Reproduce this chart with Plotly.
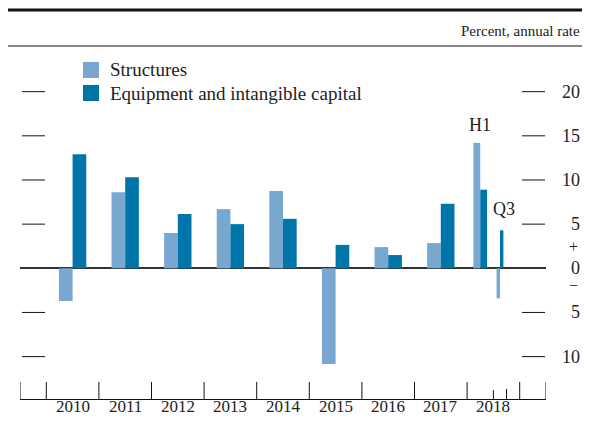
import plotly.graph_objects as go

# ---- data ----
periods = ["2010", "2011", "2012", "2013", "2014", "2015", "2016", "2017", "2018 H1", "2018 Q3"]
structures = [-3.7, 8.6, 4.0, 6.7, 8.75, -10.85, 2.4, 2.85, 14.2, -3.4]
equipment = [12.9, 10.3, 6.15, 5.0, 5.6, 2.65, 1.5, 7.3, 8.9, 4.3]
year_labels = ["2010", "2011", "2012", "2013", "2014", "2015", "2016", "2017", "2018"]
y_ticks = [20, 15, 10, 5, 0, -5, -10]
series_names = ["Structures", "Equipment and intangible capital"]
unit_label = "Percent, annual rate"

# ---- period -> position / width (years) ----
def period_span(p):
    if "H1" in p:
        y = int(p.split()[0]); return y - 0.5, 0.5
    if "Q3" in p:
        y = int(p.split()[0]); return y, 0.25
    y = int(p); return y - 0.5, 1.0

BAR_FRAC = 0.26
xs, ws = [], []
for p in periods:
    start, length = period_span(p)
    xs.append(start + length / 2)
    ws.append(BAR_FRAC * length)

C_S = "#78A8CF"
C_E = "#0075AA"
FONT = "Liberation Serif"
TXT = "#222"

fig = go.Figure()
fig.add_trace(go.Bar(x=xs, y=structures, width=ws, offset=[-w for w in ws],
                     marker=dict(color=C_S, line=dict(width=0)), name=series_names[0],
                     showlegend=False, hoverinfo="skip"))
fig.add_trace(go.Bar(x=xs, y=equipment, width=ws, offset=[0 for w in ws],
                     marker=dict(color=C_E, line=dict(width=0)), name=series_names[1],
                     showlegend=False, hoverinfo="skip"))

X0, X1 = 2009.0, 2019.0
Y0, Y1 = -14.8, 25.17
PH = 353.0  # plot height px
PW = 526.0  # plot width px
ML, MT, MR, MB = 12, 38, 44, 18  # page body adds 8 px on each side

shapes = []
# left/right value ticks
for v in y_ticks:
    if v == 0:
        continue
    for a, b in [(2 / PW, 25 / PW), (502 / PW, 525 / PW)]:
        shapes.append(dict(type="line", xref="paper", yref="y", x0=a, x1=b, y0=v, y1=v,
                           line=dict(color="#111", width=1)))
# year boundary ticks on x axis
tick_h = 17 / PH
bounds = [X0] + [int(year_labels[0]) - 0.5 + i for i in range(len(year_labels) + 1)] + [X1]
for b in bounds:
    shapes.append(dict(type="line", xref="x", yref="paper", x0=b, x1=b, y0=0, y1=tick_h,
                       line=dict(color="#111", width=1)))
# sub-period ticks in 2018
for b, h in [(2018.0, 9 / PH), (2018.25, 10 / PH)]:
    shapes.append(dict(type="line", xref="x", yref="paper", x0=b, x1=b, y0=0, y1=h,
                       line=dict(color="#111", width=1)))
# header rules
shapes.append(dict(type="line", xref="paper", yref="paper", x0=-ML / PW, x1=1 + MR / PW,
                   y0=1 + 36 / PH, y1=1 + 36 / PH, line=dict(color="#111", width=3)))
shapes.append(dict(type="line", xref="paper", yref="paper", x0=-ML / PW, x1=1 + MR / PW,
                   y0=1.0, y1=1.0, line=dict(color="#111", width=1)))
# legend swatches
for i, c in enumerate([C_S, C_E]):
    top = 62 + 23 * i
    shapes.append(dict(type="rect", xref="paper", yref="paper",
                       x0=(83 - 20) / PW, x1=(99 - 20) / PW,
                       y0=1 - (top - 46) / PH, y1=1 - (top + 16 - 46) / PH,
                       fillcolor=c, line=dict(width=0)))

ann = []
for i, name in enumerate(series_names):
    cy = 70 + 23 * i
    ann.append(dict(xref="paper", yref="paper", x=(108 - 20) / PW, y=1 - (cy - 46) / PH,
                    text=name, showarrow=False, xanchor="left", yanchor="middle",
                    font=dict(family=FONT, size=19, color=TXT)))
for v in y_ticks:
    ann.append(dict(xref="paper", yref="y", x=(582 - 20) / PW, y=v, text=str(abs(v)),
                    showarrow=False, xanchor="right", yanchor="middle",
                    font=dict(family=FONT, size=18, color=TXT)))
ann.append(dict(xref="paper", yref="y", x=(580 - 20) / PW, y=2.5, text="+",
                showarrow=False, xanchor="right", yanchor="middle",
                font=dict(family=FONT, size=16, color=TXT)))
ann.append(dict(xref="paper", yref="y", x=(580 - 20) / PW, y=-1.9, text="−",
                showarrow=False, xanchor="right", yanchor="middle",
                font=dict(family=FONT, size=16, color=TXT)))
ann.append(dict(xref="paper", yref="paper", x=(582 - 20) / PW, y=1 + 15 / PH,
                text=unit_label, showarrow=False, xanchor="right",
                yanchor="middle", font=dict(family=FONT, size=15, color=TXT)))
ann.append(dict(xref="x", yref="y", x=xs[8], y=16.2, text="H1", showarrow=False,
                xanchor="center", yanchor="middle", font=dict(family=FONT, size=18, color=TXT)))
ann.append(dict(xref="x", yref="y", x=2018.21, y=6.7, text="Q3", showarrow=False,
                xanchor="center", yanchor="middle", font=dict(family=FONT, size=18, color=TXT)))
# year labels under the axis
for lab in year_labels:
    ann.append(dict(xref="x", yref="paper", x=int(lab), y=-7.5 / PH, text=lab,
                    showarrow=False, xanchor="center", yanchor="middle",
                    font=dict(family=FONT, size=17, color=TXT)))

fig.update_layout(
    width=582, height=409,
    margin=dict(l=ML, r=MR, t=MT, b=MB, autoexpand=False),
    paper_bgcolor="white", plot_bgcolor="white",
    barmode="overlay",
    showlegend=False,
    shapes=shapes, annotations=ann,
    xaxis=dict(range=[X0, X1], showgrid=False, zeroline=False, showline=True,
               linecolor="#111", linewidth=1, ticks="", showticklabels=False),
    yaxis=dict(range=[Y0, Y1], showgrid=False, zeroline=True, zerolinecolor="#333",
               zerolinewidth=1.5, showticklabels=False, ticks=""),
)
fig.write_html("out.html", config={"displayModeBar": False})
